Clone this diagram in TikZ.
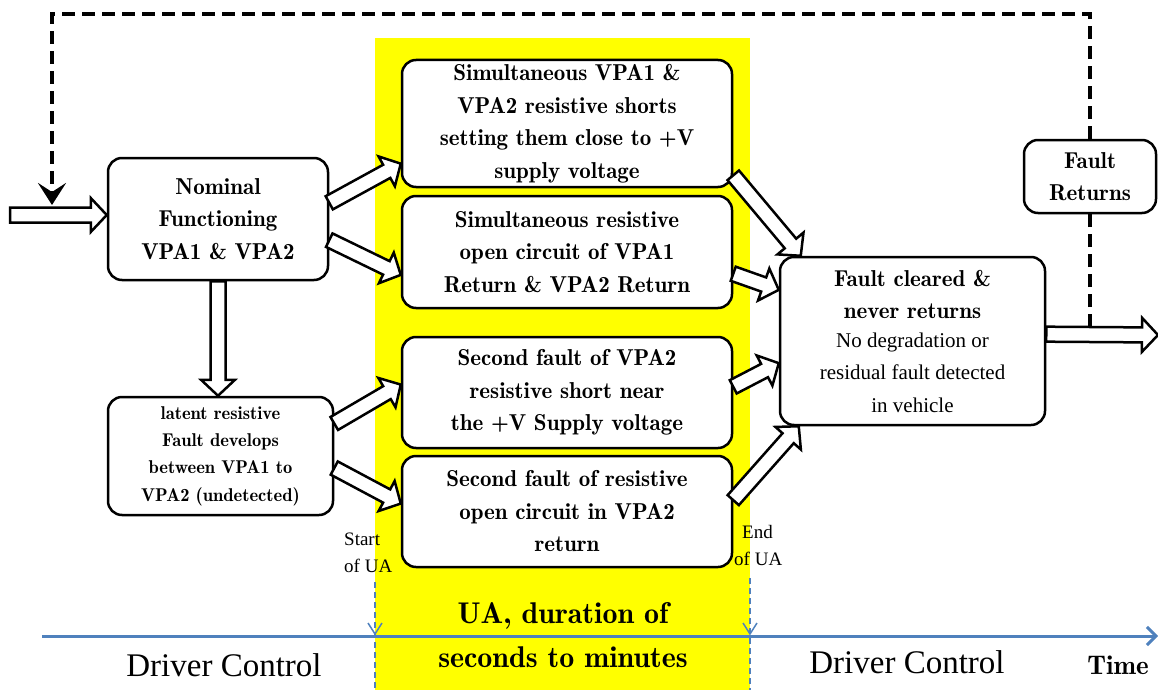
\documentclass[tikz,border=0pt]{standalone}
\usepackage{fontspec}
\setmainfont{Liberation Serif}
\newcommand\bserif{\fontfamily{lmr}\bfseries}
\usetikzlibrary{calc,arrows.meta}
\definecolor{axisblue}{RGB}{79,129,189}
\definecolor{uayellow}{RGB}{255,255,0}
\newcommand\ndt{\rmfamily\mdseries\fontsize{21}{27.5}\selectfont}
\tikzset{
  box/.style={draw, line width=2.5pt, rounded corners=14pt, fill=white, align=center, inner sep=0pt,
    font=\bserif\fontsize{23}{32.5}\selectfont},
  harr/.style={draw=black, fill=white, line width=2.5pt, line join=miter, miter limit=10},
  loop/.style={line width=4.5pt, dash pattern=on 13pt off 7pt},
  axis/.style={draw=axisblue, line width=3pt},
  mark line/.style={draw=axisblue, line width=1.2pt, dash pattern=on 6pt off 4pt},
  chev/.style={draw=axisblue, line width=1.5pt},
  lbl/.style={inner sep=0pt, align=center}
}
\newcommand\harrow[2]{%
  \coordinate (hA) at (#1);
  \coordinate (hB) at (#2);
  \coordinate (hN) at ($(hB)!16pt!(hA)$);
  \draw[harr] ($(hA)!7.5pt!90:(hB)$) -- ($(hN)!7.5pt!-90:(hA)$) -- ($(hN)!17pt!-90:(hA)$) -- (hB)
     -- ($(hN)!17pt!90:(hA)$) -- ($(hN)!7.5pt!90:(hA)$) -- ($(hA)!7.5pt!-90:(hB)$) -- cycle;}
\begin{document}
\begin{tikzpicture}[x=1pt,y=-1pt]
\useasboundingbox (0,0) rectangle (1158,690);
% UA band
\fill[uayellow] (375,38) rectangle (750,690);

% boxes
\node[box, minimum width=220pt, minimum height=122pt] (nom) at (218,219)
  {Nominal\\Functioning\\VPA1 \& VPA2};
\node[box, minimum width=330pt, minimum height=127pt] (b1) at (567,123.5)
  {Simultaneous VPA1 \&\\VPA2 resistive shorts\\setting them close to +V\\supply voltage};
\node[box, minimum width=330pt, minimum height=112pt] (b2) at (567,252)
  {Simultaneous resistive\\open circuit of VPA1\\Return \& VPA2 Return};
\node[box, minimum width=330pt, minimum height=111pt] (b3) at (567,392.5)
  {Second fault of VPA2\\resistive short near\\the +V Supply voltage};
\node[box, minimum width=330pt, minimum height=111pt] (b4) at (567,511.5)
  {Second fault of resistive\\open circuit in VPA2\\return};
\node[box, minimum width=225pt, minimum height=118pt, font=\bserif\fontsize{18.5}{27.3}\selectfont] (lat) at (220.5,456)
  {latent resistive\\Fault develops\\between VPA1 to\\VPA2 (undetected)};
\node[box, minimum width=265pt, minimum height=168pt] (fc) at (912.5,341)
  {Fault cleared \&\\never returns\\[-4pt]\ndt No degradation or\\\ndt residual fault detected\\\ndt in vehicle};
\node[box, minimum width=132pt, minimum height=73pt] (fr) at (1090,176.5)
  {Fault\\Returns};

% input and output
\coordinate (inS) at (10,215);
\harrow{inS}{[yshift=4pt]nom.west}
\coordinate (outE) at (1158,335);
\harrow{$(fc.north east)!0.46!(fc.south east)$}{outE}

% hollow arrows between boxes
\harrow{$(nom.north east)!0.37!(nom.south east)$}{$(b1.north west)!0.81!(b1.south west)$}
\harrow{$(nom.north east)!0.67!(nom.south east)$}{$(b2.north west)!0.70!(b2.south west)$}
\harrow{nom.south}{nom.south |- lat.north}
\harrow{$(lat.north east)!0.23!(lat.south east)$}{$(b3.north west)!0.43!(b3.south west)$}
\harrow{$(lat.north east)!0.60!(lat.south east)$}{$(b4.north west)!0.43!(b4.south west)$}
\harrow{$(b1.north east)!0.90!(b1.south east)$}{[xshift=22pt]fc.north west}
\harrow{$(b2.north east)!0.69!(b2.south east)$}{$(fc.north west)!0.20!(fc.south west)$}
\harrow{$(b3.north east)!0.45!(b3.south east)$}{$(fc.north west)!0.63!(fc.south west)$}
\harrow{$(b4.north east)!0.40!(b4.south east)$}{[xshift=20pt]fc.south west}

% dashed feedback loop
\coordinate (frb) at (fr.south |- 0,327);
\coordinate (tr) at (fr.north |- 0,14);
\coordinate (tl) at (52,14);
\coordinate (loopEnd) at (52,205);
\draw[loop] (frb) -- (fr.south);
\draw[loop, -{Stealth[length=22pt,width=28pt,inset=9pt]}] (fr.north) -- (tr) -- (tl) -- (loopEnd);

% time axis
\coordinate (ax0) at (42,636);
\coordinate (ax1) at (1158,636);
\draw[axis, -{Straight Barb[length=9pt,width=18pt]}] (ax0) -- (ax1);
\coordinate (s0) at (375,582);
\coordinate (s1) at (375,636);
\coordinate (s2) at (375,690);
\coordinate (e0) at (750,578);
\coordinate (e1) at (750,636);
\coordinate (e2) at (750,690);
\draw[mark line] (s0) -- (s2);
\draw[mark line] (e0) -- (e2);
\draw[chev] ($(s1)+(-7,-13)$) -- ($(s1)+(0,-2)$) -- ($(s1)+(7,-13)$);
\draw[chev] ($(e1)+(-7,-13)$) -- ($(e1)+(0,-2)$) -- ($(e1)+(7,-13)$);

% labels
\node[lbl, anchor=north west, align=left, font=\fontsize{19}{27}\selectfont] (start) at (344,533) {Start\\of UA};
\node[lbl, anchor=north west, align=left, font=\fontsize{19}{27}\selectfont] (endua) at (734,525) {\hspace*{8pt}End\\of UA};
\node[lbl, font=\bserif\fontsize{30}{44}\selectfont] (ua) at (563,635) {UA, duration of\\seconds to minutes};
\node[lbl, font=\fontsize{33}{40}\selectfont] (dc1) at (224,665) {Driver Control};
\node[lbl, font=\fontsize{33}{40}\selectfont] (dc2) at (907,662) {Driver Control};
\node[lbl, font=\bserif\fontsize{27}{36}\selectfont] (time) at (1118,665) {Time};
\end{tikzpicture}
\end{document}
